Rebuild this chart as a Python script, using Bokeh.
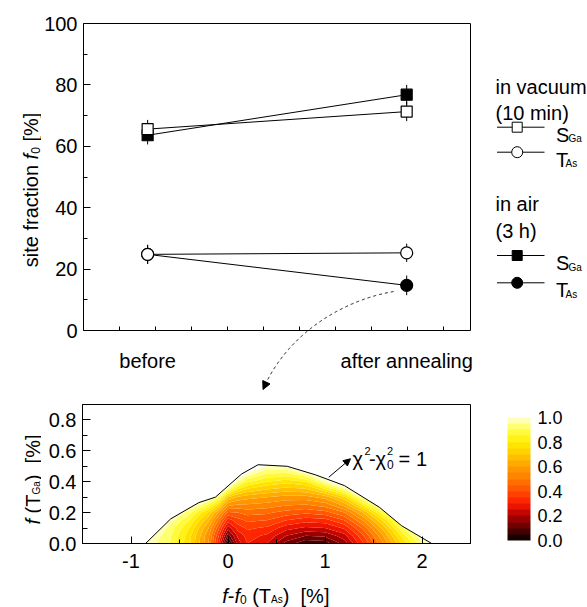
import numpy as np
from bokeh.plotting import figure
from bokeh.layouts import column, row
from bokeh.models import (Range1d, FixedTicker, SingleIntervalTicker, PrintfTickFormatter,
                          Arrow, NormalHead, ColorBar, LinearColorMapper)
from bokeh.core.properties import value
from bokeh.embed import file_html
from bokeh.resources import INLINE

# ---------------- data ----------------
conditions = ["before", "after annealing"]
vac_S = [65.6, 71.3]
vac_S_err = [3.0, 3.1]
vac_T = [24.8, 25.3]
vac_T_err = [3.1, 3.0]
air_S = [63.6, 76.8]
air_S_err = [3.0, 3.2]
air_T = [24.8, 14.7]
air_T_err = [3.1, 3.2]
top_yticks = [0, 20, 40, 60, 80, 100]

map_x = [-1.0, -0.8, -0.6, -0.4, -0.2, -0.1, 0.0, 0.1, 0.2, 0.4, 0.6, 0.8, 1.0, 1.2, 1.4, 1.6, 1.8, 2.0, 2.2]
map_y = [0.0, 0.05, 0.1, 0.15, 0.2, 0.3, 0.4, 0.5, 0.6]
map_z = [
    [1.10, 0.97, 0.90, 0.76, 0.55, 0.32, 0.00, 0.22, 0.30, 0.25, 0.13, 0.06, 0.07, 0.17, 0.35, 0.55, 0.76, 0.94, 1.10],
    [1.12, 1.00, 0.91, 0.77, 0.56, 0.36, 0.12, 0.26, 0.32, 0.29, 0.20, 0.15, 0.16, 0.23, 0.40, 0.60, 0.82, 1.00, 1.15],
    [1.15, 1.04, 0.93, 0.80, 0.60, 0.42, 0.22, 0.32, 0.36, 0.34, 0.27, 0.24, 0.25, 0.31, 0.47, 0.67, 0.90, 1.06, 1.20],
    [1.20, 1.08, 0.98, 0.85, 0.66, 0.50, 0.32, 0.38, 0.41, 0.40, 0.35, 0.32, 0.33, 0.40, 0.56, 0.76, 0.98, 1.12, 1.25],
    [1.25, 1.12, 1.04, 0.92, 0.74, 0.60, 0.44, 0.45, 0.47, 0.46, 0.43, 0.41, 0.43, 0.50, 0.66, 0.88, 1.05, 1.18, 1.30],
    [1.35, 1.20, 1.15, 1.08, 1.02, 0.92, 0.70, 0.64, 0.62, 0.60, 0.58, 0.58, 0.62, 0.74, 0.98, 1.10, 1.20, 1.30, 1.40],
    [1.45, 1.35, 1.30, 1.25, 1.20, 1.15, 1.15, 0.95, 0.86, 0.80, 0.77, 0.80, 0.96, 1.12, 1.25, 1.30, 1.35, 1.40, 1.50],
    [1.50, 1.50, 1.50, 1.50, 1.50, 1.50, 1.30, 1.20, 1.10, 0.99, 1.00, 1.10, 1.20, 1.30, 1.50, 1.50, 1.50, 1.50, 1.50],
    [1.50, 1.50, 1.50, 1.50, 1.50, 1.50, 1.50, 1.50, 1.50, 1.50, 1.50, 1.50, 1.50, 1.50, 1.50, 1.50, 1.50, 1.50, 1.50],
]
bound_x = [-0.85, -0.59, -0.30, -0.13, 0.14, 0.31, 0.61, 0.90, 1.20, 1.56, 1.79, 2.10]
bound_y = [0.0, 0.16, 0.265, 0.30, 0.45, 0.51, 0.50, 0.445, 0.375, 0.235, 0.115, 0.0]
map_levels = [0.0, 0.05, 0.1, 0.15, 0.2, 0.25, 0.3, 0.35, 0.4, 0.45, 0.5,
              0.55, 0.6, 0.65, 0.7, 0.75, 0.8, 0.85, 0.9, 0.95, 1.0]
cbar_ticks = [0.0, 0.2, 0.4, 0.6, 0.8, 1.0]
bot_xrange = (-1.5, 2.5)
bot_yrange = (0.0, 0.9)

# ---------------- styles / geometry (page pixels) ----------------
FONT = "Liberation Sans"
FS = 20
W_MET = {' ': 278, '(': 333, ')': 333, '[': 278, ']': 278, '%': 889, '-': 333, '=': 584,
         'A': 667, 'G': 778, 'S': 667, 'T': 611, 'a': 556, 'c': 500, 'e': 556, 'f': 278,
         'i': 222, 'n': 556, 'o': 556, 'r': 333, 's': 500, 't': 278}


def tw(s, size):
    return sum(W_MET.get(c, 556) for c in s) * size / 1000.0


PAGE_L, PAGE_R = 0, 587
PAGE_T, PAGE_B = 0, 607
FL, FR = 82, 470            # plot box left / right, both panels
T_TOP, T_BOT = 23, 330      # top plot box
TF_TOP, TF_BOT, TF_R = 22, 397, 476   # top figure frame (a bit larger than the box)
B_TOP, B_BOT = 404, 543     # bottom frame
ROWC_BOT = 578
YT_R = 41                   # right edge of the y-title strips
LEG_L = 480
X_BEFORE, X_AFTER = 146.3, 406.0
LABEL_BASE = 360.0

xpos = list(range(len(conditions)))
ppu = (X_AFTER - X_BEFORE) / (xpos[1] - xpos[0])
vpu = (T_BOT - T_TOP) / (top_yticks[-1] - top_yticks[0])


def top_xy(xp, yp):
    return (xpos[0] + (np.asarray(xp) - X_BEFORE) / ppu,
            top_yticks[0] + (T_BOT - np.asarray(yp)) / vpu)


box_x0, box_x1 = float(top_xy(FL, 0)[0]), float(top_xy(FR, 0)[0])


def bot_xy(xp, yp):
    return (bot_xrange[0] + (xp - FL) / (FR - FL) * (bot_xrange[1] - bot_xrange[0]),
            bot_yrange[0] + (B_BOT - yp) / (B_BOT - B_TOP) * (bot_yrange[1] - bot_yrange[0]))


def page_xy(xp, yp):
    return (xp, -np.asarray(yp))


def txt(p, X, Y, t, size, style="normal", angle=0.0, align="left"):
    p.text(x=[X], y=[Y], text=[t], angle=angle, text_align=align, text_baseline="alphabetic",
           text_font=value(FONT), text_font_size=value(f"{size}px"),
           text_font_style=value(style), text_color="black")


def run(p, conv, x0, y0, pieces, vertical=False):
    """pieces: (text, size, style, baseline_shift_px)"""
    pos = 0.0
    for text, size, style, shift in pieces:
        words = text.split(" ")
        for k, w in enumerate(words):
            if w:
                if vertical:
                    X, Y = conv(x0 + shift, y0 - pos)
                    txt(p, float(X), float(Y), w, size, style, np.pi / 2)
                else:
                    X, Y = conv(x0 + pos, y0 + shift)
                    txt(p, float(X), float(Y), w, size, style, 0.0)
                pos += tw(w, size)
            if k < len(words) - 1:
                pos += tw(" ", size)


def deco_fig(w, h, xr, yr, bt=0, bb=0):
    f = figure(width=w, height=h, x_range=Range1d(*xr), y_range=Range1d(*yr),
               x_axis_location=None, y_axis_location=None,
               min_border_left=0, min_border_right=0, min_border_top=bt, min_border_bottom=bb,
               toolbar_location=None, output_backend="svg")
    f.grid.visible = False
    f.outline_line_color = None
    f.background_fill_color = "white"
    f.border_fill_color = "white"
    return f


def style_axis(ax, major_in, minor_in, standoff):
    ax.axis_line_color = "black"
    ax.axis_line_width = 1
    ax.major_tick_in = major_in
    ax.major_tick_out = 0
    ax.minor_tick_in = minor_in
    ax.minor_tick_out = 0
    ax.major_tick_line_color = "black"
    ax.minor_tick_line_color = "black"
    ax.major_label_text_font = FONT
    ax.major_label_text_font_size = f"{FS}px"
    ax.major_label_text_color = "black"
    ax.major_label_standoff = standoff


# ---------------- top panel ----------------
ROWA_H = TF_BOT - PAGE_T
fx0, fy1 = top_xy(FL, TF_TOP)
fx1, fy0 = top_xy(TF_R, TF_BOT)
top = figure(width=LEG_L - YT_R, height=ROWA_H,
             x_range=Range1d(float(fx0), float(fx1)), y_range=Range1d(float(fy0), float(fy1)),
             x_axis_location="above",
             min_border_left=FL - YT_R, min_border_right=LEG_L - TF_R,
             min_border_top=TF_TOP - PAGE_T, min_border_bottom=0,
             toolbar_location=None, output_backend="svg")
top.xgrid.visible = False
top.ygrid.visible = False
top.outline_line_color = None

minor_top = [float(top_xy(118.3 + 36.1 * k, 0)[0]) for k in range(10)]
xa = top.xaxis[0]
xa.ticker = FixedTicker(ticks=xpos, minor_ticks=minor_top)
style_axis(xa, 0, 0, 0)
xa.minor_tick_out = 4          # pointing up into the box from the y = 0 line
xa.major_label_text_font_size = "0px"
xa.major_label_text_color = None
xa.fixed_location = top_yticks[0]
xa.bounds = (box_x0, box_x1)
ya = top.yaxis[0]
ya.ticker = SingleIntervalTicker(interval=20, num_minor_ticks=2)
ya.bounds = (top_yticks[0], top_yticks[-1])
style_axis(ya, 7, 4, 6)

# top and right edges of the box
top.segment(x0=[box_x0, box_x1], y0=[top_yticks[-1], top_yticks[0]],
            x1=[box_x1, box_x1], y1=[top_yticks[-1], top_yticks[-1]],
            line_color="black", line_width=1)

series = [
    (vac_S, vac_S_err, "square", "white", 11),
    (vac_T, vac_T_err, "circle", "white", 12),
    (air_S, air_S_err, "square", "black", 11),
    (air_T, air_T_err, "circle", "black", 12),
]
for vals, errs, mk, fc, sz in series:
    top.line(xpos, vals, line_color="black", line_width=1)
for vals, errs, mk, fc, sz in series:
    top.segment(x0=xpos, y0=[v - e for v, e in zip(vals, errs)],
                x1=xpos, y1=[v + e for v, e in zip(vals, errs)],
                line_color="black", line_width=1)
for vals, errs, mk, fc, sz in [series[2], series[3], series[0], series[1]]:
    top.scatter(xpos, vals, marker=mk, size=sz, fill_color=fc,
                line_color="black", line_width=1.2)

# category labels under the box
top.text(x=xpos, y=[float(top_xy(0, LABEL_BASE)[1])] * len(xpos), text=conditions,
         text_align="center", text_baseline="alphabetic", text_font=value(FONT),
         text_font_size=value(f"{FS}px"), text_color="black")

# curved dashed arrow pointing to the lower panel
P = np.array([[393.0, 291.0], [340.0, 300.0], [285.0, 335.0], [262.0, 389.0]])
tt = np.linspace(0, 1, 600)
bez = (((1 - tt) ** 3)[:, None] * P[0] + (3 * (1 - tt) ** 2 * tt)[:, None] * P[1]
       + (3 * (1 - tt) * tt ** 2)[:, None] * P[2] + (tt ** 3)[:, None] * P[3])
seglen = np.r_[0, np.cumsum(np.hypot(*np.diff(bez, axis=0).T))]
cut = np.searchsorted(seglen, seglen[-1] - 8)
cx, cy = top_xy(bez[:cut + 1, 0], bez[:cut + 1, 1])
top.line(cx, cy, line_color="black", line_width=1, line_dash="3 3")
hx0, hy0 = top_xy(bez[cut, 0], bez[cut, 1])
hx1, hy1 = top_xy(bez[-1, 0], bez[-1, 1])
top.add_layout(Arrow(end=NormalHead(size=8, fill_color="black", line_color="black", line_width=1),
                     x_start=float(hx0), y_start=float(hy0), x_end=float(hx1), y_end=float(hy1),
                     line_color="black", line_width=1))

# y-title strip (top)
yt1 = deco_fig(YT_R - PAGE_L, ROWA_H, (PAGE_L, YT_R), (-TF_BOT, -TF_TOP),
               bt=TF_TOP - PAGE_T, bb=0)
run(yt1, page_xy, 30.5, 266.7,
    [("site fraction ", FS, "normal", 0), ("f", FS, "italic", 0),
     ("0", 12, "normal", 4), (" [%]", FS, "normal", 0)], vertical=True)

# legend panel
leg = deco_fig(PAGE_R - LEG_L, ROWA_H, (LEG_L, PAGE_R), (-TF_BOT, -TF_TOP),
               bt=TF_TOP - PAGE_T, bb=0)
groups = [
    ("in vacuum", "(10 min)", 86.0, 112.3, "white", 126.7, 151.7),
    ("in air", "(3 h)", 203.3, 230.5, "black", 255.0, 282.3),
]
LX = 495.0
for h1, h2, yb1, yb2, fc, ys, yt in groups:
    txt(leg, LX, -yb1, h1, FS)
    txt(leg, LX, -yb2, h2, FS)
    for yc, mk, sym, sub, sz, subx in [(ys, "square", "S", "Ga", 10, 568.0),
                                       (yt, "circle", "T", "As", 11, 565.0)]:
        leg.segment(x0=[496.5], y0=[-yc], x1=[544.0], y1=[-yc], line_color="black", line_width=1)
        leg.scatter([516.7], [-yc], marker=mk, size=sz, fill_color=fc, line_color="black",
                    line_width=1)
        txt(leg, 555.5, -(yc + 7.6), sym, FS)
        txt(leg, subx, -(yc + 11.6), sub, 10)

# ---------------- bottom panel ----------------
ROWC_H = ROWC_BOT - TF_BOT
bot = figure(width=PAGE_R - YT_R, height=ROWC_H,
             x_range=Range1d(*bot_xrange), y_range=Range1d(*bot_yrange),
             min_border_left=FL - YT_R, min_border_right=PAGE_R - FR,
             min_border_top=B_TOP - TF_BOT, min_border_bottom=ROWC_BOT - B_BOT,
             toolbar_location=None, output_backend="svg")
bot.xgrid.visible = False
bot.ygrid.visible = False
bot.outline_line_color = "black"
bot.outline_line_alpha = 1
bot.xaxis.ticker = SingleIntervalTicker(interval=1, num_minor_ticks=2)
bot.yaxis.ticker = SingleIntervalTicker(interval=0.2, num_minor_ticks=2)
bot.yaxis.formatter = PrintfTickFormatter(format="%.1f")
bot.xaxis.major_label_overrides = {-1: "-1"}
style_axis(bot.xaxis[0], 7, 4, 10)
style_axis(bot.yaxis[0], 8, 5, 6)

# colour palette (black -> red -> orange -> yellow -> pale yellow)
anc_p = [0.0, 0.1, 0.2, 0.3, 0.4, 0.5, 0.6, 0.7, 0.8, 0.9, 1.0]
anc_c = ["#000000", "#5a0000", "#b00000", "#ff1a00", "#ff4d00", "#ff7a00",
         "#ffa000", "#ffc800", "#ffee00", "#ffff50", "#ffffd8"]
anc_rgb = np.array([[int(c[i:i + 2], 16) for i in (1, 3, 5)] for c in anc_c], dtype=float)
palette = []
for i in range(len(map_levels) - 1):
    m = 0.5 * (map_levels[i] + map_levels[i + 1])
    rgb = [np.interp(m, anc_p, anc_rgb[:, k]) for k in range(3)]
    palette.append("#%02x%02x%02x" % tuple(int(round(v)) for v in rgb))

bot.contour(x=map_x, y=map_y, z=np.array(map_z), levels=map_levels,
            fill_color=palette, line_color=None)

# white mask above the chi^2 = 1 boundary
ex = 0.012
mask_x = list(bound_x) + [bot_xrange[1] - ex, bot_xrange[1] - ex, bot_xrange[0] + ex, bot_xrange[0] + ex]
mask_y = list(bound_y) + [bot_yrange[0], bot_yrange[1] - 0.006, bot_yrange[1] - 0.006, bot_yrange[0]]
bot.patch(mask_x, mask_y, fill_color="white", line_color=None)
bot.line(bound_x, bound_y, line_color="black", line_width=1)

# annotation chi^2 - chi0^2 = 1
ax0, ay0 = bot_xy(328.3, 476.7)
ax1, ay1 = bot_xy(350.0, 458.3)
bot.add_layout(Arrow(end=NormalHead(size=7, fill_color="black", line_color="black", line_width=1),
                     x_start=ax0, y_start=ay0, x_end=ax1, y_end=ay1,
                     line_color="black", line_width=1))
for xp, yp, t, sz in [(352.0, 458.3, "\u03c7", FS), (364.0, 450.0, "2", 11), (368.5, 458.3, "-", FS),
                      (375.0, 458.3, "\u03c7", FS), (386.5, 450.0, "2", 11), (386.5, 463.5, "0", 12),
                      (398.0, 458.3, "=", FS), (415.5, 458.3, "1", FS)]:
    X, Y = bot_xy(xp, yp)
    txt(bot, X, Y, t, sz)

# colour bar
mapper = LinearColorMapper(palette=palette, low=map_levels[0], high=map_levels[-1])
cb = ColorBar(color_mapper=mapper, ticker=FixedTicker(ticks=cbar_ticks),
              formatter=PrintfTickFormatter(format="%.1f"),
              width=23, height=123, location=(507 - FL, B_BOT - 540), padding=0, margin=0,
              major_tick_line_color=None, minor_tick_line_color=None, bar_line_color=None,
              border_line_color=None, background_fill_color=None,
              major_label_text_font=FONT, major_label_text_font_size="18px",
              major_label_text_color="black", label_standoff=7)
bot.add_layout(cb, "center")

# y-title strip (bottom)
yt2 = deco_fig(YT_R - PAGE_L, ROWC_H, (PAGE_L, YT_R), (-B_BOT, -B_TOP),
               bt=B_TOP - TF_BOT, bb=ROWC_BOT - B_BOT)
run(yt2, page_xy, 32.5, 524.0,
    [("f", FS, "italic", 0), (" (T", FS, "normal", 0), ("Ga", 10, "normal", 3.0),
     (")  [%]", FS, "normal", 0)], vertical=True)

# x-title strip (bottom)
xt = deco_fig(PAGE_R - PAGE_L, PAGE_B - ROWC_BOT, (PAGE_L, PAGE_R), (-PAGE_B, -ROWC_BOT))
run(xt, page_xy, 221.7, 595.5,
    [("f", FS, "italic", 0), ("-", FS, "normal", 0), ("f", FS, "italic", 0),
     ("0", 12, "normal", 3.5), (" (T", FS, "normal", 0), ("As", 10, "normal", 3.5),
     (")  [%]", FS, "normal", 0)])

layout = column(row(yt1, top, leg), row(yt2, bot), xt)
open("out.html", "w").write(file_html(layout, INLINE))
